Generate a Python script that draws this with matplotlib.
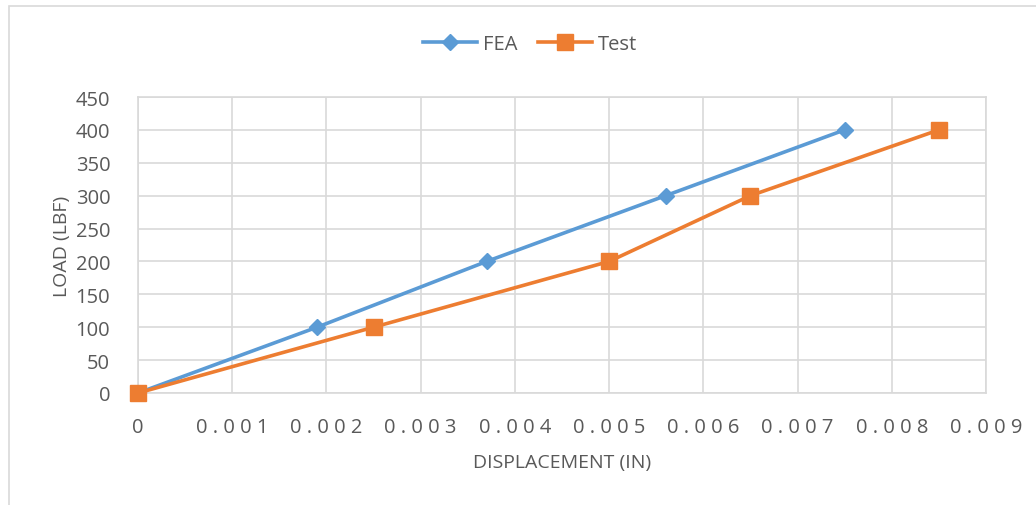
import matplotlib
matplotlib.use("Agg")
import matplotlib.pyplot as plt
from matplotlib.patches import Rectangle

fea_x = [0, 0.0019, 0.0037, 0.0056, 0.0075]
fea_y = [0, 100, 200, 300, 400]
test_x = [0, 0.0025, 0.005, 0.0065, 0.0085]
test_y = [0, 100, 200, 300, 400]
x_ticks = [0, 0.001, 0.002, 0.003, 0.004, 0.005, 0.006, 0.007, 0.008, 0.009]
x_tick_labels = ["0", "0.001", "0.002", "0.003", "0.004", "0.005", "0.006", "0.007", "0.008", "0.009"]
y_ticks = [0, 50, 100, 150, 200, 250, 300, 350, 400, 450]

plt.rcParams['font.family'] = ['Open Sans', 'DejaVu Sans']
W, H = 1036, 506
fig = plt.figure(figsize=(W/100, H/100), dpi=100)
fig.patch.set_facecolor('white')
fig.patches.append(Rectangle((9/W, -0.1), 1.2, 1 - 7/H + 0.1, transform=fig.transFigure,
                             fill=False, edgecolor='#d9d9d9', linewidth=1.2))

ax = fig.add_axes([138/W, 1 - 394/H, (986-138)/W, (394-98)/H])
ax.set_xlim(0, 0.009)
ax.set_ylim(0, 450)
ax.set_xticks(x_ticks)
spaced = [" ".join(list(s)) if len(s) > 1 else s for s in x_tick_labels]
ax.set_xticklabels(spaced)
ax.set_yticks(y_ticks)
ax.grid(True, color='#d9d9d9', linewidth=1.2)
ax.set_axisbelow(True)
for s in ax.spines.values():
    s.set_color('#d9d9d9')
    s.set_linewidth(1.2)
ax.tick_params(length=0, labelsize=14.5, colors='#595959', pad=17)
ax.tick_params(axis='y', pad=20)

ax.plot(fea_x, fea_y, color='#5B9BD5', linewidth=2.6, marker='D', markersize=8,
        label='FEA', clip_on=False, zorder=3)
ax.plot(test_x, test_y, color='#ED7D31', linewidth=2.6, marker='s', markersize=11,
        label='Test', clip_on=False, zorder=4)

ax.set_xlabel('DISPLACEMENT (IN)', fontsize=14, color='#595959', labelpad=12)
ax.set_ylabel('LOAD (LBF)', fontsize=14, color='#595959', labelpad=3)

leg = fig.legend(loc='center', bbox_to_anchor=(530/W, 1 - 45/H), ncol=2, frameon=False,
                 fontsize=14.5, handlelength=2.7, columnspacing=1.0, handletextpad=0.3)
for t in leg.get_texts():
    t.set_color('#595959')

fig.savefig('out.png', dpi=100)
